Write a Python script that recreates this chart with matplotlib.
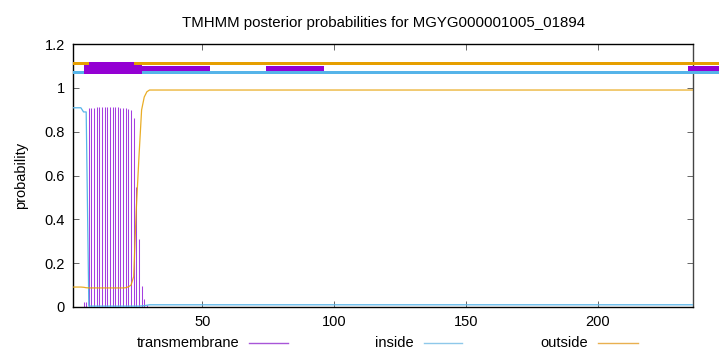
import matplotlib
matplotlib.use("Agg")
import matplotlib.pyplot as plt
from matplotlib.patches import Rectangle
from matplotlib.lines import Line2D

plt.rcParams['font.family'] = ['Liberation Sans', 'DejaVu Sans']

# ---- data ----
n_res = 236
positions = list(range(1, n_res + 1))

# transmembrane posterior (residues 1..30), rest ~0
tm_head = [0.0, 0.0, 0.0, 0.0, 0.024, 0.024,
           0.906, 0.908, 0.909, 0.911, 0.911, 0.911, 0.911, 0.911, 0.911,
           0.911, 0.911, 0.911, 0.909, 0.909, 0.909, 0.903, 0.900, 0.861,
           0.546, 0.310, 0.096, 0.036, 0.010, 0.0]
tm_tail = [0.0] * (n_res - len(tm_head))
transmembrane = tm_head + tm_tail

inside_head = [0.909, 0.909, 0.909, 0.909, 0.890, 0.890,
               0.004, 0.004, 0.004, 0.004, 0.004, 0.004, 0.004, 0.004, 0.004,
               0.004, 0.004, 0.004, 0.004, 0.004, 0.004, 0.004, 0.004, 0.004,
               0.004, 0.004, 0.005, 0.006, 0.008, 0.010]
inside_tail = [0.010] * (n_res - len(inside_head))
inside = inside_head + inside_tail

outside_head = [0.091, 0.091, 0.091, 0.091, 0.090, 0.088,
                0.087, 0.087, 0.087, 0.087, 0.087, 0.087, 0.087, 0.087, 0.087,
                0.087, 0.087, 0.087, 0.087, 0.087, 0.088, 0.092, 0.100, 0.139,
                0.450, 0.685, 0.899, 0.958, 0.982, 0.990]
outside_tail = [0.990] * (n_res - len(outside_head))
outside = outside_head + outside_tail

# top annotation bars (residue ranges)
outside_bar = (1, 246)
inside_bar = (1, 246)
tm_thin_segments = [(5.2, 53.0), (74.0, 96.0), (234.2, 246.0)]
tm_thick_segments = [(5.2, 27.1)]
tm_core_segments = [(7.05, 24.05)]

x_ticks = [50, 100, 150, 200]
y_ticks = [0, 0.2, 0.4, 0.6, 0.8, 1.0, 1.2]
y_tick_labels = ["0", "0.2", "0.4", "0.6", "0.8", "1", "1.2"]

title = "TMHMM posterior probabilities for MGYG000001005_01894"

# ---- colours ----
c_tm = '#9400D3'
c_in = '#56B4E9'
c_out = '#E69F00'

fig = plt.figure(figsize=(7.2, 3.52), dpi=100)
ax = fig.add_axes([73/720, 1 - 307/352, (693-73)/720, (307-44)/352])

ax.set_xlim(1, n_res)
ax.set_ylim(0, 1.2)

# impulses for transmembrane
ax.vlines(positions, 0, transmembrane, color='#a43fe0', linewidth=0.75, zorder=2)
ax.plot(positions, inside, color=c_in, linewidth=0.9, zorder=3)
ax.plot(positions, outside, color=c_out, linewidth=0.9, alpha=0.85, zorder=3)

# top bars
def bar(x0, x1, y0, y1, color, z):
    r = Rectangle((x0, y0), x1 - x0, y1 - y0, facecolor=color, edgecolor='none',
                  clip_on=False, zorder=z)
    ax.add_patch(r)

bar(outside_bar[0], outside_bar[1], 1.103, 1.119, c_out, 4)
bar(inside_bar[0], inside_bar[1], 1.065, 1.078, c_in, 4)
for a, b in tm_thin_segments:
    bar(a, b, 1.078, 1.0996, c_tm, 5)
for a, b in tm_thick_segments:
    bar(a, b, 1.064, 1.104, c_tm, 5)
for a, b in tm_core_segments:
    bar(a, b, 1.064, 1.116, c_tm, 5)

ax.set_xticks(x_ticks)
ax.set_xticklabels([str(t) for t in x_ticks])
ax.set_yticks(y_ticks)
ax.set_yticklabels(y_tick_labels)
ax.tick_params(direction='in', length=4, width=0.7, color='#666666',
               top=True, right=True, labelsize=10.5, pad=6)
for s in ax.spines.values():
    s.set_linewidth(1.0)
    s.set_color('black')
ax.spines['right'].set_color('#444444')

ax.set_ylabel("probability", fontsize=10.5, labelpad=12)
fig.text(384/720, 1 - 23/352, title, ha='center', va='center', fontsize=10.8)

# legend
ly = 1 - 343/352
legend_items = [("transmembrane", 239.3, 248.6, 287.6, '#a855d8'),
                ("inside", 413.8, 423.5, 462.2, '#8ec8ea'),
                ("outside", 588.4, 598.0, 637.5, '#e9b050')]
for label, tx, l0, l1, col in legend_items:
    fig.text(tx/720, ly, label, ha='right', va='center', fontsize=10.5)
    fig.add_artist(Line2D([l0/720, l1/720], [ly, ly], color=col, linewidth=1.0,
                          transform=fig.transFigure))

fig.savefig("out.png", dpi=100)
